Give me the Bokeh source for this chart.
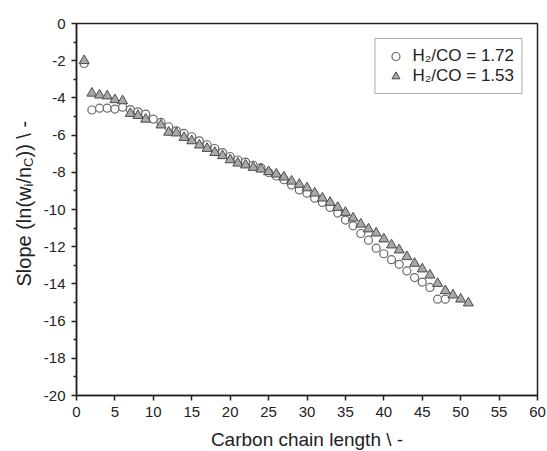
from math import pi
from bokeh.plotting import figure
from bokeh.layouts import row, column
from bokeh.models import Range1d, FixedTicker, Label, Legend, LegendItem
from bokeh.embed import file_html
from bokeh.resources import INLINE

# ---- data ----
circle_x = list(range(1, 49))
circle_y = [-2.15, -4.65, -4.55, -4.55, -4.60, -4.50, -4.63, -4.75, -4.87, -5.14,
            -5.32, -5.55, -5.77, -5.91, -6.09, -6.31, -6.52, -6.72, -6.94, -7.15,
            -7.34, -7.45, -7.62, -7.76, -8.01, -8.20, -8.40, -8.68, -8.95, -9.12,
            -9.39, -9.62, -9.89, -10.19, -10.57, -10.88, -11.29, -11.65, -12.08, -12.38,
            -12.70, -12.95, -13.30, -13.66, -13.90, -14.19, -14.82, -14.82]

tri_x = [1, 2, 3, 4, 5, 6, 7, 8, 9] + list(range(11, 52))
tri_y = [-2.00, -3.75, -3.85, -3.90, -4.10, -4.16, -4.84, -4.95, -5.15,
         -5.46, -5.85, -5.89, -6.13, -6.31, -6.54, -6.72, -6.94, -7.11, -7.33,
         -7.51, -7.61, -7.74, -7.83, -7.97, -8.10, -8.26, -8.48, -8.65, -8.84,
         -9.12, -9.39, -9.62, -9.89, -10.16, -10.46, -10.79, -11.05, -11.27, -11.59,
         -11.91, -12.18, -12.54, -12.90, -13.20, -13.53, -13.98, -14.37, -14.60, -14.82,
         -15.03]

label_circle = "H\u2082/CO = 1.72"
label_tri = "H\u2082/CO = 1.53"
x_title = "Carbon chain length \\ -"
y_title_parts = ["Slope (ln(w", "i", "/n", "C", ")) \\ -"]
x_ticks = [0, 5, 10, 15, 20, 25, 30, 35, 40, 45, 50, 55, 60]
y_ticks = [0, -2, -4, -6, -8, -10, -12, -14, -16, -18, -20]
y_minor = [-1, -3, -5, -7, -9, -11, -13, -15, -17, -19]

FONT = "Liberation Sans"
AX = "#222222"
TOP_H = 430
YW = 36

p = figure(width=547 - YW, height=TOP_H, x_range=Range1d(0, 60), y_range=Range1d(-20, 0),
           output_backend="svg", toolbar_location=None,
           min_border_left=40, min_border_right=10, min_border_top=23, min_border_bottom=35)

p.xgrid.visible = False
p.ygrid.visible = False
p.outline_line_color = AX
p.outline_line_width = 1.5

for ax in (p.xaxis, p.yaxis):
    ax.axis_line_color = AX
    ax.axis_line_width = 1.5
    ax.major_tick_line_color = AX
    ax.major_tick_line_width = 1.5
    ax.major_tick_in = 0
    ax.major_tick_out = 5
    ax.minor_tick_line_color = AX
    ax.minor_tick_line_width = 1.5
    ax.minor_tick_in = 0
    ax.minor_tick_out = 3
    ax.major_label_text_font = FONT
    ax.major_label_text_font_size = "15px"
    ax.major_label_text_color = AX

p.xaxis.ticker = FixedTicker(ticks=x_ticks)
p.yaxis.ticker = FixedTicker(ticks=y_ticks, minor_ticks=y_minor)
p.yaxis.major_label_overrides = {t: str(t) for t in y_ticks}
p.xaxis.major_label_overrides = {t: str(t) for t in x_ticks}
p.xaxis.major_label_standoff = 6
p.yaxis.major_label_standoff = 6

r_c = p.scatter(circle_x, circle_y, marker="circle", size=8, fill_color="white",
                line_color="#6a6a6a", line_width=1.2)
r_t = p.scatter(tri_x, tri_y, marker="triangle", size=10, fill_color="#a8a8a8",
                line_color="#4a4a4a", line_width=1.0)

legend = Legend(items=[LegendItem(label=label_circle, renderers=[r_c]),
                       LegendItem(label=label_tri, renderers=[r_t])],
                location="top_right", margin=15, padding=7, spacing=0,
                glyph_width=26, glyph_height=20, label_height=20, label_standoff=4,
                label_text_font=FONT, label_text_font_size="17px", label_text_color=AX,
                border_line_color="#555555", border_line_width=1,
                background_fill_color="white", background_fill_alpha=1.0)
p.add_layout(legend)


def blank(w, h):
    f = figure(width=w, height=h, x_range=Range1d(0, w), y_range=Range1d(0, h),
               x_axis_location=None, y_axis_location=None, min_border=0,
               output_backend="svg", toolbar_location=None)
    f.outline_line_color = None
    f.xgrid.visible = False
    f.ygrid.visible = False
    return f


# y-axis title with subscripts (rotated)
yfig = blank(YW, TOP_H)
big, small = 20, 13
advances = [5001, 222, 834, 722, 1833]   # Arial advance widths (1/1000 em)
sizes = [big, small, big, small, big]
shifts = [0.0, 4.5, 0.0, 4.5, 0.0]
bx = 23.0
yy = 109.0
for txt, fs, dx, adv in zip(y_title_parts, sizes, shifts, advances):
    yfig.add_layout(Label(x=bx + dx, y=yy, x_units="screen", y_units="screen",
                          text=txt, angle=pi / 2, text_align="left",
                          text_baseline="alphabetic", text_font=FONT,
                          text_font_size=f"{fs}px", text_color=AX))
    yy += adv * fs / 1000.0

# x-axis title
xfig = blank(547, 451 - TOP_H)
xfig.add_layout(Label(x=306.5, y=12, x_units="screen", y_units="screen",
                      text=x_title, text_align="center", text_baseline="alphabetic",
                      text_font=FONT, text_font_size="19px", text_color=AX))

layout = column(row(yfig, p, spacing=0), xfig, spacing=0)
open("out.html", "w").write(file_html(layout, INLINE))
